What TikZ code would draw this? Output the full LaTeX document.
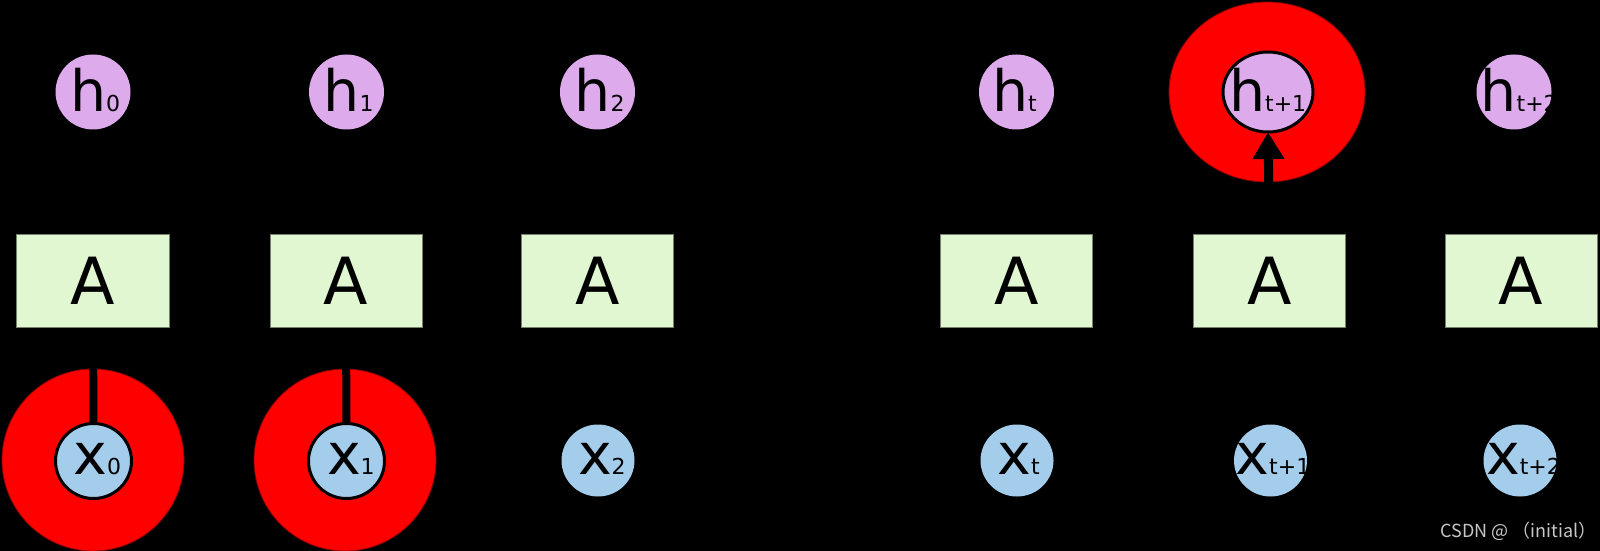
\documentclass[tikz,border=0pt]{standalone}
\usepackage{fontspec}
\setmainfont{DejaVu Sans}
\newfontfamily\cjkfont{Noto Sans CJK SC}
\usetikzlibrary{shapes.geometric,arrows.meta}
\definecolor{hcol}{RGB}{221,170,236}
\definecolor{xcol}{RGB}{164,205,236}
\definecolor{boxcol}{RGB}{224,247,209}
\definecolor{boxline}{RGB}{120,128,110}
\definecolor{hl}{RGB}{255,0,0}
\definecolor{wmcol}{RGB}{200,200,200}
\newcommand\subtxt[1]{{\fontsize{22bp}{22bp}\selectfont #1}}
\begin{document}
\begin{tikzpicture}[x=1bp,y=-1bp,
  hnode/.style={ellipse, fill=hcol, minimum width=75bp, minimum height=75bp, inner sep=0pt, outer sep=0pt},
  xnode/.style={ellipse, fill=xcol, minimum width=73bp, minimum height=72bp, inner sep=0pt, outer sep=0pt},
  ring/.style={draw=black, line width=3bp},
  cell/.style={rectangle, fill=boxcol, draw=boxline, line width=1bp, minimum width=152bp, minimum height=92bp, inner sep=0pt, font=\fontsize{65bp}{65bp}\selectfont},
  lbl/.style={inner sep=0pt, outer sep=0pt, anchor=base west, font=\fontsize{57bp}{57bp}\selectfont},
  redzone/.style={fill=hl, draw=black!45!red, line width=0.8bp},
  link/.style={draw=black, line width=8bp, -{Triangle[width=30bp,length=27bp]}}
]
\useasboundingbox (0,0) rectangle (1600,551);
\fill[black] (0,0) rectangle (1600,551);

% red highlight discs
\path[redzone] (93,460) ellipse [x radius=91, y radius=91];
\path[redzone] (345,460) ellipse [x radius=91, y radius=91];
\path[redzone] (1267,92) ellipse [x radius=98, y radius=90];

% hidden states
\node[hnode] (h0) at (93,92) {};
\node[hnode] (h1) at (346.5,92) {};
\node[hnode] (h2) at (597.5,92) {};
\node[hnode] (ht) at (1016.5,92) {};
\node[hnode, ring, minimum width=90bp, minimum height=80bp] (ht1) at (1268,92) {};
\node[hnode] (ht2) at (1514,92) {};

% cells
\node[cell] (A0) at (93,281) {A};
\node[cell] (A1) at (346,281) {A};
\node[cell] (A2) at (597.5,281) {A};
\node[cell] (At) at (1016.5,281) {A};
\node[cell] (At1) at (1269.5,281) {A};
\node[cell] (At2) at (1521,281) {A};

% inputs
\node[xnode, ring, minimum width=76bp, minimum height=75bp] (x0) at (93.5,461) {};
\node[xnode, ring, minimum width=76bp, minimum height=75bp] (x1) at (346.5,461) {};
\node[xnode] (x2) at (598,460.5) {};
\node[xnode] (xt) at (1017,460.5) {};
\node[xnode] (xt1) at (1270.5,460.5) {};
\node[xnode] (xt2) at (1520,460.5) {};

% labels
\node[lbl] (lh0) at (70,112) {h\subtxt{0}};
\node[lbl] (lh1) at (323.5,112) {h\subtxt{1}};
\node[lbl] (lh2) at (574.5,112) {h\subtxt{2}};
\node[lbl] (lht) at (992,112) {h\subtxt{t}};
\node[lbl] (lht1) at (1229,112) {h\subtxt{t+1}};
\node[lbl] (lht2) at (1480.5,112) {h\subtxt{t+2}};

\node[lbl] (lx0) at (73.5,474) {x\subtxt{0}};
\node[lbl] (lx1) at (327,474) {x\subtxt{1}};
\node[lbl] (lx2) at (578,474) {x\subtxt{2}};
\node[lbl] (lxt) at (997.5,474) {x\subtxt{t}};
\node[lbl] (lxt1) at (1235.5,474) {x\subtxt{t+1}};
\node[lbl] (lxt2) at (1486,474) {x\subtxt{t+2}};

% connectors (visible only over the highlights)
\draw[link] (x0.north) -- (A0.south);
\draw[link] (x1.north) -- (A1.south);
\draw[link, line width=9bp, shorten <=1.5bp] (At1.north) -- (ht1.south);

% watermark
\node[anchor=base east, inner sep=0pt, text=wmcol, font=\cjkfont\fontsize{18bp}{18bp}\selectfont] (wm) at (1597,537) {CSDN @ （initial）};
\end{tikzpicture}
\end{document}
